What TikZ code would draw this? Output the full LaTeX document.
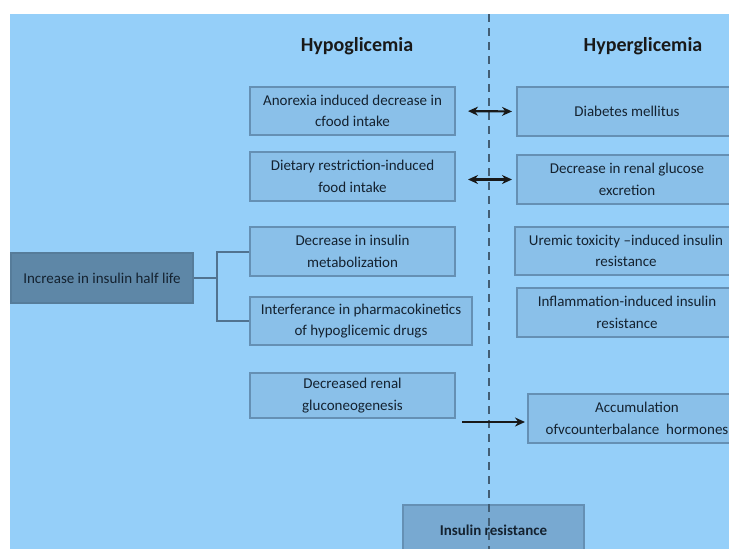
\documentclass[tikz,border=0pt]{standalone}
\usepackage{fontspec}
\setmainfont{Carlito}
\usetikzlibrary{arrows.meta}
\definecolor{bgblue}{HTML}{95CFF9}
\definecolor{boxfill}{HTML}{8AC0E9}
\definecolor{boxline}{HTML}{6590B4}
\definecolor{darkfill}{HTML}{5E87A7}
\definecolor{midfill}{HTML}{78A9D1}
\definecolor{txt}{HTML}{142230}
\begin{document}
\begin{tikzpicture}[
  x=1pt, y=-1pt,
  box/.style={draw=boxline, fill=boxfill, line width=2pt, inner sep=0pt,
    align=center, text=txt, font=\fontsize{15}{21.5}\selectfont},
  darkbox/.style={box, fill=darkfill, draw=darkfill!92!black},
  head/.style={font=\fontsize{20}{24}\selectfont\bfseries, text=black!90},
  arr/.style={-{Stealth[length=10pt,width=9pt]}, line width=2.2pt, black!90},
  dbl/.style={{Stealth[length=10pt,width=9pt]}-{Stealth[length=10pt,width=9pt]}, line width=2.2pt, black!90},
  fork/.style={draw=boxline!80!black, line width=2pt}
]
\useasboundingbox (0,0) rectangle (729,549);
\clip (0,0) rectangle (729,549);
\fill[bgblue] (10,14) rectangle (729,549);

% headings
\node[head] (hypo) at (357,46) {Hypoglicemia};
\node[head] (hyper) at (643,46) {Hyperglicemia};

% divider
\coordinate (dtop) at (489,14);
\coordinate (dbot) at (489,549);

% left column
\node[box, minimum width=205pt, minimum height=48pt] (A1) at (352.5,111) {Anorexia induced decrease in\\cfood intake};
\node[box, minimum width=205pt, minimum height=49pt] (A2) at (352.5,176.5) {Dietary restriction-induced\\food intake};
\node[box, minimum width=205pt, minimum height=49pt] (A3) at (352.5,251.5) {Decrease in insulin\\metabolization};
\node[box, minimum width=222pt, minimum height=48pt] (A4) at (361,321) {Interferance in pharmacokinetics\\of hypoglicemic drugs};
\node[box, minimum width=205pt, minimum height=45pt] (A5) at (352.5,395.5) {Decreased renal\\gluconeogenesis};

% right column
\node[box, minimum width=220pt, minimum height=49pt] (B1) at (627,111.5) {Diabetes mellitus};
\node[box, minimum width=220pt, minimum height=49pt] (B2) at (627,179.5) {Decrease in renal glucose\\excretion};
\node[box, minimum width=222pt, minimum height=48pt] (B3) at (626,251) {Uremic toxicity --induced insulin\\resistance};
\node[box, minimum width=220pt, minimum height=49pt] (B4) at (627,312.5) {Inflammation-induced insulin\\resistance};
\node[box, minimum width=218pt, minimum height=49pt] (B5) at (637,418.5) {Accumulation\\ofvcounterbalance\ \ hormones};

% half life and insulin resistance
\node[darkbox, minimum width=182pt, minimum height=50pt] (L) at (102,278) {Increase in insulin half life};
\node[box, fill=midfill, minimum width=181pt, minimum height=50pt, font=\fontsize{15}{18}\selectfont\bfseries] (IR) at (493.5,530) {Insulin resistance};

\draw[boxline!65!black, line width=1.6pt, dash pattern=on 8pt off 6pt] (dtop) -- (dbot);

% bracket
\coordinate (fk) at (217,278);
\draw[fork] (L.east) -- (fk);
\draw[fork] (A3.west) -| (fk);
\draw[fork] (A4.west) -| (fk);

% arrows
\draw[dbl, shorten <=12pt, shorten >=4pt] (A1.east) -- (B1.west);
\draw[dbl, shorten <=12pt, shorten >=4pt] (A2.east |- B2.west) -- (B2.west);
\coordinate (a5out) at (462,422);
\draw[arr, shorten >=2pt] (a5out) -- (B5.west |- a5out);
\end{tikzpicture}
\end{document}
